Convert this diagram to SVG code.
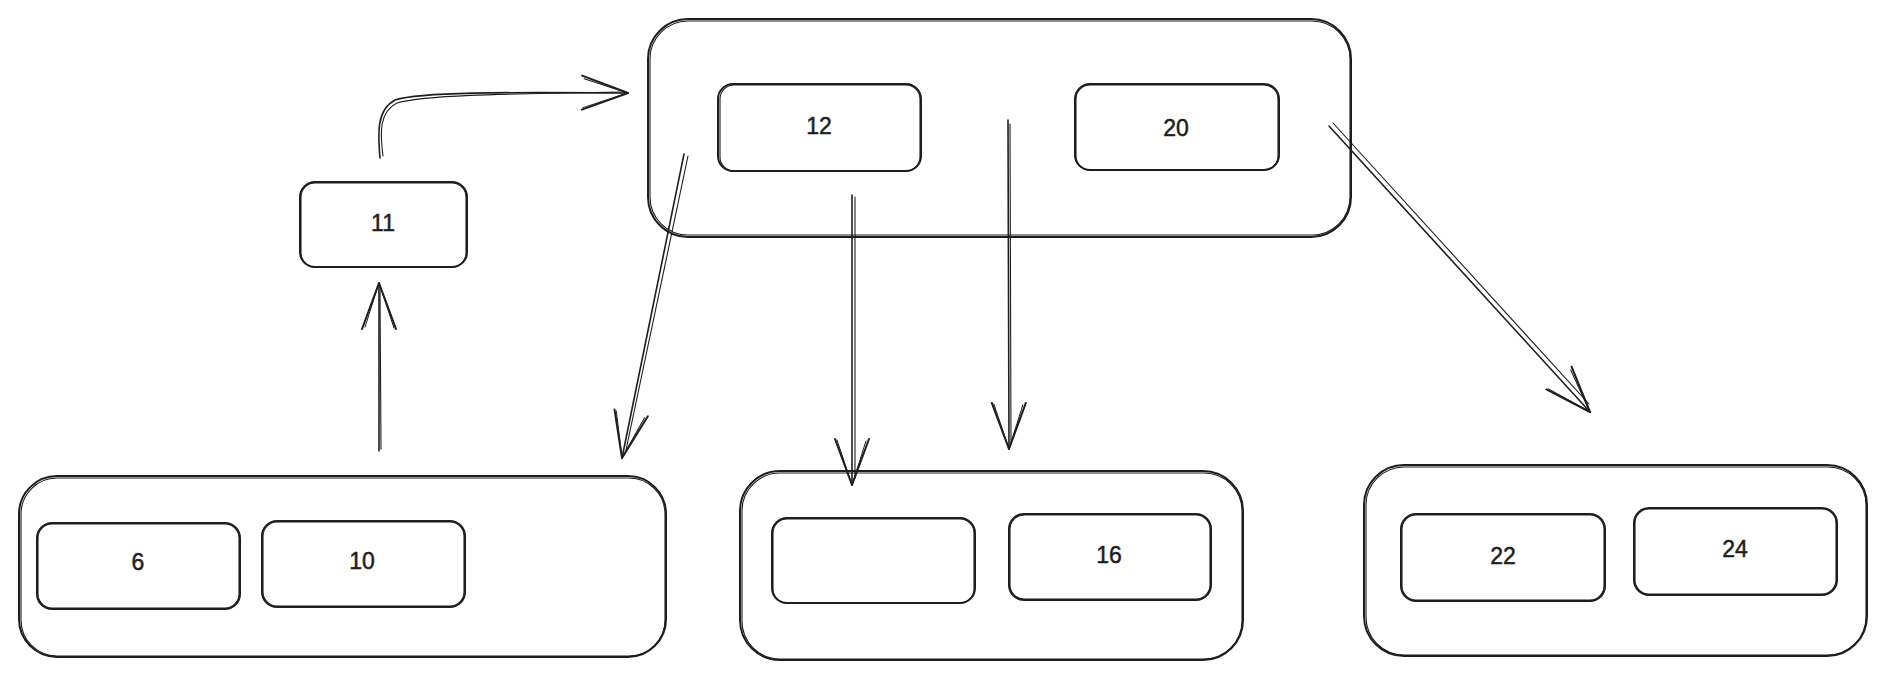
<svg xmlns="http://www.w3.org/2000/svg" width="1888" height="679" viewBox="0 0 1888 679">
<defs>
<style>
.b{fill:none;stroke:#1e1e1e;stroke-width:2;stroke-linecap:round;stroke-linejoin:round}
.t{fill:none;stroke:#1e1e1e;stroke-width:1.1;stroke-linecap:round;stroke-linejoin:round}
.c{fill:none;stroke:#1e1e1e;stroke-width:1.6;stroke-linecap:round}
.lbl{font-family:"Liberation Sans",Arial,sans-serif;font-size:23px;fill:#1e1e1e;stroke:#1e1e1e;stroke-width:0.5;text-anchor:middle;dominant-baseline:central}
</style>
<marker id="ah" markerUnits="userSpaceOnUse" viewBox="-55 -25 60 50" markerWidth="60" markerHeight="50" refX="0" refY="0" orient="auto" overflow="visible">
<path d="M -46 -17 L 0 0 L -46 17" fill="none" stroke="#1e1e1e" stroke-width="2" stroke-linecap="round" stroke-linejoin="round"/>
<path d="M -44 -14 L 0 0 L -45 15" fill="none" stroke="#1e1e1e" stroke-width="1" stroke-linecap="round"/>
</marker>
</defs>
<rect width="1888" height="679" fill="#ffffff"/>

<g id="top-node">
<rect class="b" x="648" y="19" width="703" height="218" rx="40"/>
<rect class="t" x="650" y="21" width="700" height="214" rx="38"/>
</g>
<g id="key-12">
<rect class="b" x="718" y="84" width="203" height="87" rx="15"/>
<rect class="t" x="720" y="85" width="200" height="86" rx="14"/>
<text class="lbl" x="819" y="126">12</text>
</g>
<g id="key-20">
<rect class="b" x="1075" y="84" width="204" height="86" rx="15"/>
<rect class="t" x="1076" y="85" width="202" height="85" rx="14"/>
<text class="lbl" x="1176" y="128">20</text>
</g>
<g id="key-11">
<rect class="b" x="300" y="182" width="167" height="85" rx="15"/>
<rect class="t" x="301" y="183" width="165" height="84" rx="14"/>
<text class="lbl" x="383" y="223">11</text>
</g>

<g id="left-node">
<rect class="b" x="19" y="476" width="647" height="181" rx="38"/>
<rect class="t" x="21" y="478" width="644" height="178" rx="36"/>
</g>
<g id="key-6">
<rect class="b" x="37" y="523" width="203" height="86" rx="15"/>
<rect class="t" x="38" y="524" width="201" height="84" rx="14"/>
<text class="lbl" x="138" y="562">6</text>
</g>
<g id="key-10">
<rect class="b" x="262" y="521" width="203" height="86" rx="15"/>
<rect class="t" x="263" y="522" width="201" height="84" rx="14"/>
<text class="lbl" x="362" y="561">10</text>
</g>

<g id="mid-node">
<rect class="b" x="740" y="471" width="503" height="189" rx="40"/>
<rect class="t" x="742" y="473" width="500" height="186" rx="38"/>
</g>
<g id="key-empty">
<rect class="b" x="772" y="518" width="203" height="85" rx="15"/>
<rect class="t" x="773" y="519" width="201" height="84" rx="14"/>
</g>
<g id="key-16">
<rect class="b" x="1009" y="514" width="202" height="86" rx="15"/>
<rect class="t" x="1010" y="515" width="200" height="84" rx="14"/>
<text class="lbl" x="1109" y="555">16</text>
</g>

<g id="right-node">
<rect class="b" x="1364" y="465" width="503" height="191" rx="40"/>
<rect class="t" x="1366" y="467" width="500" height="188" rx="38"/>
</g>
<g id="key-22">
<rect class="b" x="1401" y="514" width="204" height="87" rx="15"/>
<rect class="t" x="1402" y="515" width="202" height="85" rx="14"/>
<text class="lbl" x="1503" y="556">22</text>
</g>
<g id="key-24">
<rect class="b" x="1634" y="508" width="203" height="87" rx="15"/>
<rect class="t" x="1635" y="509" width="201" height="85" rx="14"/>
<text class="lbl" x="1735" y="549">24</text>
</g>

<g id="connectors">
<path class="c" d="M 379 451 L 379 283" marker-end="url(#ah)"/>
<path class="t" d="M 381 449 L 380 290"/>
<path class="c" d="M 380 158 C 378 135 376 110 395 100 C 420 92 500 92 628 93" marker-end="url(#ah)"/>
<path class="t" d="M 383 156 C 380 133 379 112 397 103 C 425 95 500 94 620 92"/>
<path class="c" d="M 684 154 L 622 458" marker-end="url(#ah)"/>
<path class="t" d="M 688 156 L 626 450"/>
<path class="c" d="M 852 195 L 852 485" marker-end="url(#ah)"/>
<path class="t" d="M 855 197 L 855 478"/>
<path class="c" d="M 1008 120 L 1009 449" marker-end="url(#ah)"/>
<path class="t" d="M 1010 124 L 1011 442"/>
<path class="c" d="M 1329 126 L 1590 412" marker-end="url(#ah)"/>
<path class="t" d="M 1333 123 L 1589 404"/>
</g>
</svg>
